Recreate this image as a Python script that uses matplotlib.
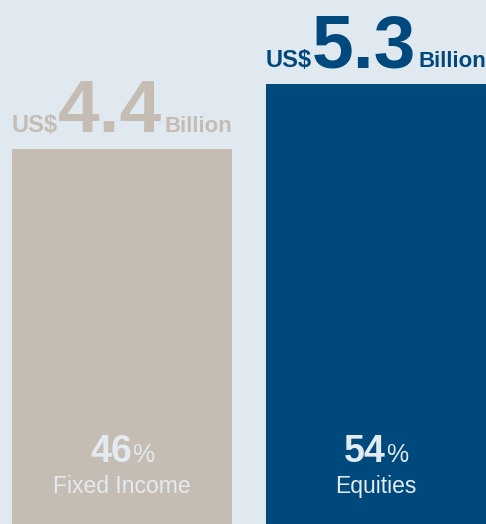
import matplotlib
matplotlib.use("Agg")
import matplotlib.pyplot as plt
from matplotlib.transforms import offset_copy

categories = ["Fixed Income", "Equities"]
shares = [46, 54]            # percent
amounts = ["4.4", "5.3"]     # US$ billion
bar_colors = ["#c5bdb3", "#00497c"]
bg = "#e1e9f0"
txt_light = "#e3ebf2"

DPI = 100
fig = plt.figure(figsize=(4.86, 5.24), dpi=DPI, facecolor=bg)
ax = fig.add_axes([0, 0, 1, 1])
ax.set_facecolor(bg)
x = [0, 1]
ax.bar(x, shares, width=0.866, color=bar_colors, linewidth=0)
ax.set_xlim(-0.480, 1.433)
ax.set_ylim(0, 54 * 524 / 440)
ax.axis("off")

FAM = ["Liberation Sans", "DejaVu Sans"]
renderer = fig.canvas.get_renderer()


def group(xc, y, parts, color, dy_pt=0.0, gaps=None):
    """parts: list of (text, size, weight) placed on a common baseline, centered at xc."""
    objs = []
    widths = []
    for s, size, weight in parts:
        t = ax.text(0, 0, s, fontsize=size, fontweight=weight, family=FAM,
                    color=color, ha="left", va="baseline")
        bb = t.get_window_extent(renderer=renderer)
        widths.append(bb.width)
        objs.append(t)
    if gaps is None:
        gaps = [0] * (len(parts) - 1)
    total = sum(widths) + sum(gaps)
    cur = -total / 2
    for i, (t, w) in enumerate(zip(objs, widths)):
        tr = offset_copy(ax.transData, fig=fig, x=cur * 72 / DPI, y=dy_pt, units="points")
        t.set_transform(tr)
        t.set_position((xc, y))
        cur += w + (gaps[i] if i < len(gaps) else 0)


for xi, val, amt, col in zip(x, shares, amounts, bar_colors):
    group(xi, val, [("US$", 17, "bold"), (amt, 54, "bold"), ("Billion", 16, "bold")],
          col, dy_pt=17 * 72 / DPI, gaps=[0, 2])

px2data = (54 * 524 / 440) / 524
for xi, cat, val in zip(x, categories, shares):
    group(xi, 62 * px2data, [(str(val), 27, "bold"), ("%", 18, "normal")], txt_light, gaps=[0])
    ax.text(xi, 31 * px2data, cat, fontsize=16.5, family=FAM, color=txt_light,
            ha="center", va="baseline")

fig.savefig("out.png", dpi=DPI, facecolor=bg)
